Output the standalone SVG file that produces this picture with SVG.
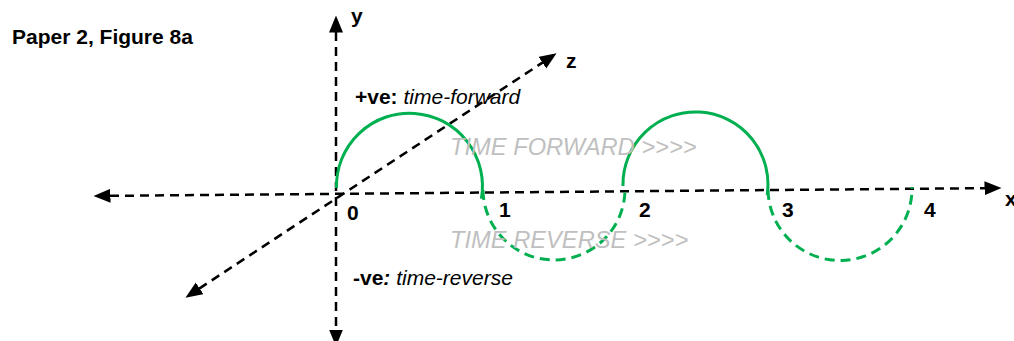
<svg xmlns="http://www.w3.org/2000/svg" width="1014" height="341" viewBox="0 0 1014 341">
<style>
.ax{stroke:#000;stroke-width:2.5;stroke-dasharray:9 6;fill:none;marker-start:url(#ah);marker-end:url(#ah)}
.sol{stroke:#00B050;stroke-width:3;fill:none}
.dsh{stroke:#00B050;stroke-width:3;fill:none;stroke-dasharray:10 6}
text{font-family:"Liberation Sans",Arial,sans-serif;font-size:21px;fill:#000}
.b{font-weight:bold}
.i{font-style:italic}
.g{fill:#BFBFBF;font-style:italic;font-size:23.7px}
</style>
<defs>
<marker id="ah" markerUnits="userSpaceOnUse" markerWidth="18" markerHeight="16" refX="0.5" refY="7" orient="auto-start-reverse">
<path d="M0,0 L17,7 L0,14 Z" fill="#000"/>
</marker>
</defs>
<rect width="1014" height="341" fill="#fff"/>
<g id="title"><text class="b" x="12" y="44">Paper 2, Figure 8a</text></g>
<g id="connectors">
<line class="ax" x1="336" y1="32" x2="336" y2="330"/>
<line class="ax" x1="110" y1="195.85" x2="985" y2="188.15"/>
<line class="ax" x1="199.2" y1="288.6" x2="542.8" y2="62.4"/>
</g>
<g id="wave">
<path class="sol" d="M336.5,188 A73,73 0 1 1 481.4,198.7"/>
<path class="dsh" d="M483,190 A71,71 0 0 0 625,188"/>
<path class="sol" d="M623,186 A72.5,72.5 0 1 1 767.2,195"/>
<path class="dsh" d="M768,190 A72,72 0 0 0 912,187"/>
</g>
<g id="axis-labels">
<text class="b" x="351" y="23">y</text>
<text class="b" x="566" y="68">z</text>
<text class="b" x="1005" y="206">x</text>
</g>
<g id="tick-labels">
<text class="b" x="347" y="220">0</text>
<text class="b" x="499" y="217">1</text>
<text class="b" x="639" y="217">2</text>
<text class="b" x="782" y="217">3</text>
<text class="b" x="924" y="217">4</text>
</g>
<g id="notes">
<text x="355" y="104"><tspan class="b">+ve:</tspan><tspan class="i"> time-forward</tspan></text>
<text x="353" y="285"><tspan class="b">-ve</tspan><tspan class="b i">:</tspan><tspan class="i"> time-reverse</tspan></text>
<text class="g" x="450" y="155">TIME FORWARD &gt;&gt;&gt;&gt;</text>
<text class="g" x="450" y="248">TIME REVERSE &gt;&gt;&gt;&gt;</text>
</g>
</svg>
